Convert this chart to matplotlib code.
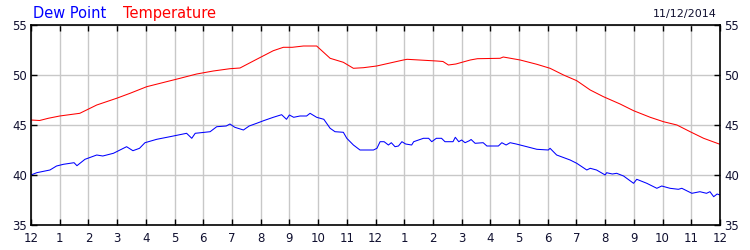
#Import libraries
import numpy as np
import matplotlib
matplotlib.use("Agg")
import matplotlib.pyplot as plt

#Data (hours since midnight, degrees F)
temp_hours = [0.0, 0.3, 0.6, 1.0, 1.7, 2.29, 2.98, 3.45, 4.03, 4.61, 5.19, 5.77,
              6.35, 6.93, 7.28, 7.86, 8.44, 8.79, 9.1, 9.49, 9.95, 10.42, 10.88,
              11.23, 11.58, 12.04, 12.97, 13.1, 14.13, 14.35, 14.54, 14.8, 15.3,
              15.55, 16.34, 16.45, 17.04, 17.62, 18.08, 18.55, 19.01, 19.48,
              19.94, 20.52, 20.99, 21.57, 22.03, 22.5, 22.96, 23.43, 24.0]
temp_vals = [45.5, 45.45, 45.67, 45.9, 46.17, 47.0, 47.67, 48.17, 48.83, 49.25,
             49.67, 50.1, 50.4, 50.63, 50.7, 51.57, 52.43, 52.77, 52.77, 52.9,
             52.9, 51.67, 51.27, 50.67, 50.73, 50.9, 51.5, 51.57, 51.4, 51.35,
             51.0, 51.1, 51.5, 51.63, 51.67, 51.8, 51.5, 51.07, 50.67, 50.0,
             49.43, 48.5, 47.83, 47.1, 46.43, 45.77, 45.33, 45.0, 44.33, 43.67,
             43.07]

dew_hours = [0.0, 0.2, 0.66, 0.89, 1.13, 1.5, 1.6, 1.88, 2.29, 2.5, 2.87, 3.33,
             3.55, 3.78, 3.97, 4.38, 4.84, 5.42, 5.6, 5.72, 6.24, 6.47, 6.8, 6.93,
             7.1, 7.4, 7.6, 7.86, 8.1, 8.44, 8.73, 8.9, 9.0, 9.15, 9.37, 9.6, 9.72,
             9.95, 10.2, 10.42, 10.59, 10.88, 11.0, 11.23, 11.46, 11.93, 12.05,
             12.16, 12.3, 12.45, 12.55, 12.68, 12.8, 12.92, 13.05, 13.26, 13.33,
             13.67, 13.85, 13.96, 14.12, 14.3, 14.42, 14.7, 14.78, 14.9, 15.0,
             15.12, 15.27, 15.33, 15.47, 15.75, 15.88, 16.28, 16.4, 16.55, 16.69,
             16.9, 17.27, 17.62, 18.02, 18.08, 18.31, 18.78, 19.01, 19.36, 19.48,
             19.7, 20.0, 20.05, 20.25, 20.4, 20.64, 20.99, 21.1, 21.45, 21.8,
             21.97, 22.26, 22.55, 22.67, 23.02, 23.3, 23.53, 23.65, 23.78, 23.9,
             24.0]
dew_vals = [40.0, 40.23, 40.5, 40.9, 41.07, 41.23, 40.93, 41.57, 42.0, 41.9,
            42.17, 42.83, 42.43, 42.67, 43.23, 43.57, 43.83, 44.17, 43.67, 44.17,
            44.33, 44.83, 44.9, 45.1, 44.77, 44.5, 44.9, 45.17, 45.43, 45.77,
            46.03, 45.57, 46.0, 45.77, 45.9, 45.9, 46.17, 45.77, 45.57, 44.67,
            44.33, 44.27, 43.67, 43.0, 42.5, 42.5, 42.67, 43.33, 43.33, 43.0,
            43.23, 42.83, 42.9, 43.33, 43.1, 43.0, 43.33, 43.67, 43.67, 43.33,
            43.67, 43.67, 43.33, 43.33, 43.77, 43.33, 43.5, 43.23, 43.43, 43.55,
            43.17, 43.23, 42.9, 42.9, 43.23, 43.0, 43.23, 43.1, 42.83, 42.57,
            42.5, 42.67, 42.0, 41.5, 41.17, 40.5, 40.67, 40.5, 40.0, 40.23, 40.1,
            40.17, 39.9, 39.17, 39.57, 39.17, 38.67, 38.9, 38.67, 38.57, 38.67,
            38.17, 38.33, 38.17, 38.33, 37.83, 38.1, 38.0]

hour_labels = ["12", "1", "2", "3", "4", "5", "6", "7", "8", "9", "10", "11"] * 2 + ["12"]
y_ticks = [35, 40, 45, 50, 55]
date_text = "11/12/2014"

#Figure setup
plt.rcParams['font.family'] = ['DejaVu Sans']
fig = plt.figure(figsize=(7.5, 2.5), dpi=100)
ax = fig.add_axes([31/750, 0.1, 689/750, 0.8])

ax.plot(temp_hours, temp_vals, color="#ff0000", lw=0.75)
ax.plot(dew_hours, dew_vals, color="#0000ff", lw=0.75)

ax.set_xlim(0, 24)
ax.set_ylim(35, 55)
ax.set_xticks(range(25))
ax.set_xticklabels(hour_labels, fontsize=8.5, color="#101030")
ax.set_yticks(y_ticks)
ax.set_yticklabels([str(v) for v in y_ticks], fontsize=8.5, color="#101030")
ax.tick_params(axis="both", direction="in", length=4, width=1, pad=5,
               top=True, right=True, labelright=True)
ax.tick_params(axis="y", pad=3)
ax.grid(color="#c8c8c8", lw=1)
ax.set_axisbelow(True)
for s in ax.spines.values():
    s.set_linewidth(1.2)

#Header texts
fig.text(33/750, 1 - 18/250, "Dew Point", color="#0000ff", fontsize=10.5)
fig.text(123/750, 1 - 18/250, "Temperature", color="#ff0000", fontsize=10.5)
fig.text(717/750, 1 - 17/250, date_text, color="#101030", fontsize=8, ha="right")

fig.savefig("out.png", dpi=100)
